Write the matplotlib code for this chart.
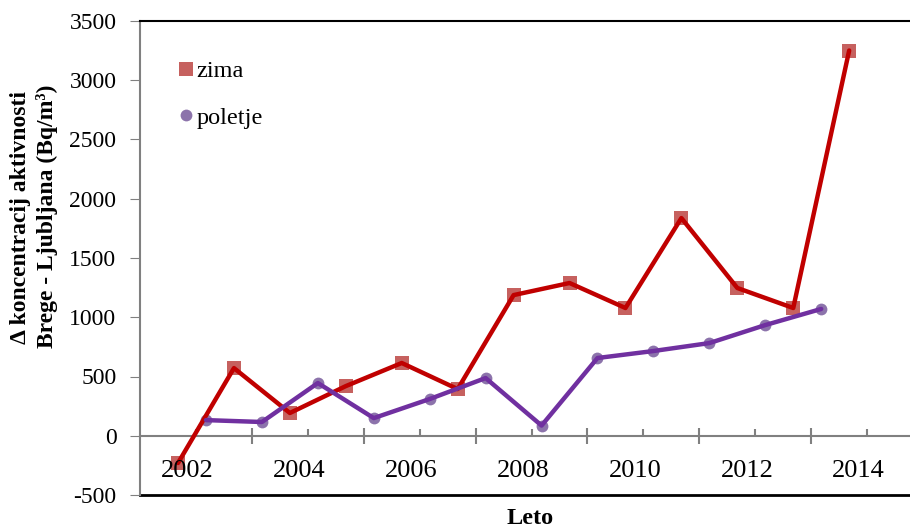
import numpy as np
import matplotlib
matplotlib.use("Agg")
import matplotlib.pyplot as plt

plt.rcParams['font.family'] = ['Liberation Serif', 'DejaVu Serif']
plt.rcParams['axes.unicode_minus'] = False

# winter (zima) and summer (poletje) differences, Bq/m3
zima_leta = [2002, 2003, 2004, 2005, 2006, 2007, 2008, 2009, 2010, 2011, 2012, 2013, 2014]
zima = [-230, 571, 192, 419, 614, 394, 1187, 1289, 1078, 1837, 1247, 1078, 3251]
poletje_leta = [2002.5, 2003.5, 2004.5, 2005.5, 2006.5, 2007.5, 2008.5, 2009.5, 2010.5, 2011.5, 2012.5, 2013.5]
poletje = [132, 116, 445, 149, 310, 487, 86, 656, 715, 782, 934, 1070]
oznake = [2002, 2004, 2006, 2008, 2010, 2012, 2014]

fig = plt.figure(figsize=(9.1, 5.29), dpi=100)
ax = fig.add_axes([140/910, 34/529, 783/910, 474/529])

# markers first, lines drawn over them
m1, = ax.plot(zima_leta, zima, 's', color='#C0504D', markersize=10.5, alpha=0.9,
              markeredgewidth=0, zorder=2, label='zima')
m2, = ax.plot(poletje_leta, poletje, 'o', color='#8064A2', markersize=8.5, alpha=0.9,
              markeredgewidth=0, zorder=2, label='poletje')
ax.plot(zima_leta, zima, '-', color='#C00000', lw=3.2, zorder=3, solid_capstyle='round')
ax.plot(poletje_leta, poletje, '-', color='#7030A0', lw=3.2, zorder=3, solid_capstyle='round')

ax.set_xlim(2001.32, 2015.32)
ax.set_ylim(-500, 3500)
ax.set_yticks(np.arange(-500, 3501, 500))
ax.tick_params(axis='y', direction='out', length=7, color='#808080', labelsize=17, pad=10)

ax.spines['bottom'].set_position(('data', 0))
ax.spines['bottom'].set_color('#808080')
ax.spines['bottom'].set_linewidth(1.5)
ax.spines['left'].set_color('#808080')
ax.spines['left'].set_linewidth(1.5)
ax.spines['right'].set_visible(False)
ax.spines['top'].set_color('black')
ax.spines['top'].set_linewidth(1.5)
ax.axhline(-500, color='black', lw=2, clip_on=False, zorder=1)

major = np.arange(2003.32, 2015.4, 2)
minor = np.arange(2002.32, 2015.4, 2)
ax.set_xticks(major)
ax.set_xticks(minor, minor=True)
ax.tick_params(axis='x', which='major', direction='inout', length=11, width=1.5,
               color='#808080', labelbottom=False)
ax.tick_params(axis='x', which='minor', direction='in', length=5, width=1.5,
               color='#808080', labelbottom=False)

for leto in oznake:
    ax.text(leto + 0.17, -300, str(leto), ha='center', va='center', fontsize=19)

fig.text(530/910, 1 - 519/529, 'Leto', ha='center', va='center',
         fontsize=17.5, fontweight='bold')
fig.text(21/910, 1 - 218/529, '\u0394 koncentracij aktivnosti', rotation=90,
         ha='center', va='center', fontsize=17, fontweight='bold')
fig.text(47/910, 1 - 216/529, 'Brege - Ljubljana (Bq/m\u00b3)', rotation=90,
         ha='center', va='center', fontsize=17, fontweight='bold')

ax.legend(handles=[m1, m2], loc='upper left', bbox_to_anchor=(0.049, 0.917),
          frameon=False, fontsize=17.5, handlelength=0.6, handletextpad=0.15,
          labelspacing=1.0, borderaxespad=0, borderpad=0)

fig.savefig('out.png', dpi=100)
